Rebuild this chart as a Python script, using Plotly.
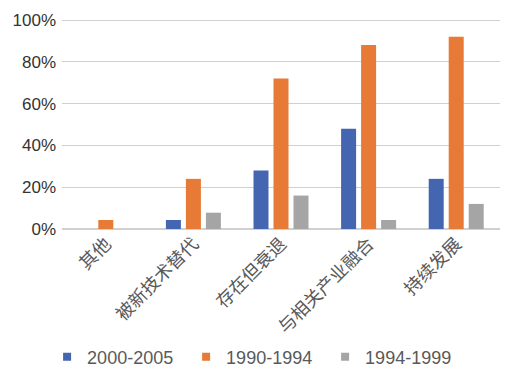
import plotly.graph_objects as go

categories = ["其他", "被新技术替代", "存在但衰退", "与相关产业融合", "持续发展"]
series_names = ["2000-2005", "1990-1994", "1994-1999"]
s2000_2005 = [0, 4.3, 28, 48, 24]
s1990_1994 = [4.3, 24, 72, 88, 92]
s1994_1999 = [0, 7.8, 16, 4.3, 12]
colors = ["#4466B0", "#E67A36", "#A5A5A5"]
tick_vals = [0, 20, 40, 60, 80, 100]
tick_text = ["0%", "20%", "40%", "60%", "80%", "100%"]

fig = go.Figure()
for name, vals, col in zip(series_names, [s2000_2005, s1990_1994, s1994_1999], colors):
    fig.add_trace(go.Bar(x=categories, y=vals, name=name, marker_color=col,
                         marker_line_width=0, showlegend=False))
for name, col in zip(series_names, colors):
    fig.add_trace(go.Scatter(x=[None], y=[None], mode="markers", name=name,
                             marker=dict(symbol="square", size=8, color=col)))

fig.update_layout(
    width=510, height=374,
    margin=dict(l=62, r=10, t=19, b=145, autoexpand=False),
    paper_bgcolor="white", plot_bgcolor="white",
    barmode="group", bargap=0.315, bargroupgap=0.25,
    font=dict(family="Liberation Sans, Noto Sans CJK SC, sans-serif", color="#595959"),
    showlegend=True,
    legend=dict(orientation="h", x=-0.034, xanchor="left", y=-0.61, yanchor="middle",
                font=dict(size=18, color="#595959"), entrywidth=94, entrywidthmode="pixels",
                itemwidth=30),
)
fig.update_xaxes(tickangle=-45, tickfont=dict(size=18, family="Noto Sans CJK SC", color="#595959"),
                 showgrid=False, showline=False, ticks="", automargin=False)
fig.update_yaxes(range=[0, 100.5], tickmode="array", tickvals=tick_vals, ticktext=tick_text,
                 tickfont=dict(size=17, color="#333333"), automargin=False, ticklabelstandoff=5,
                 showgrid=True, gridcolor="#D0D0D0", gridwidth=1,
                 zeroline=True, zerolinecolor="#D0D0D0", showline=False, ticks="")
fig.write_html("out.html", config={"displayModeBar": False},
               post_script="document.body.style.margin='0px';")
